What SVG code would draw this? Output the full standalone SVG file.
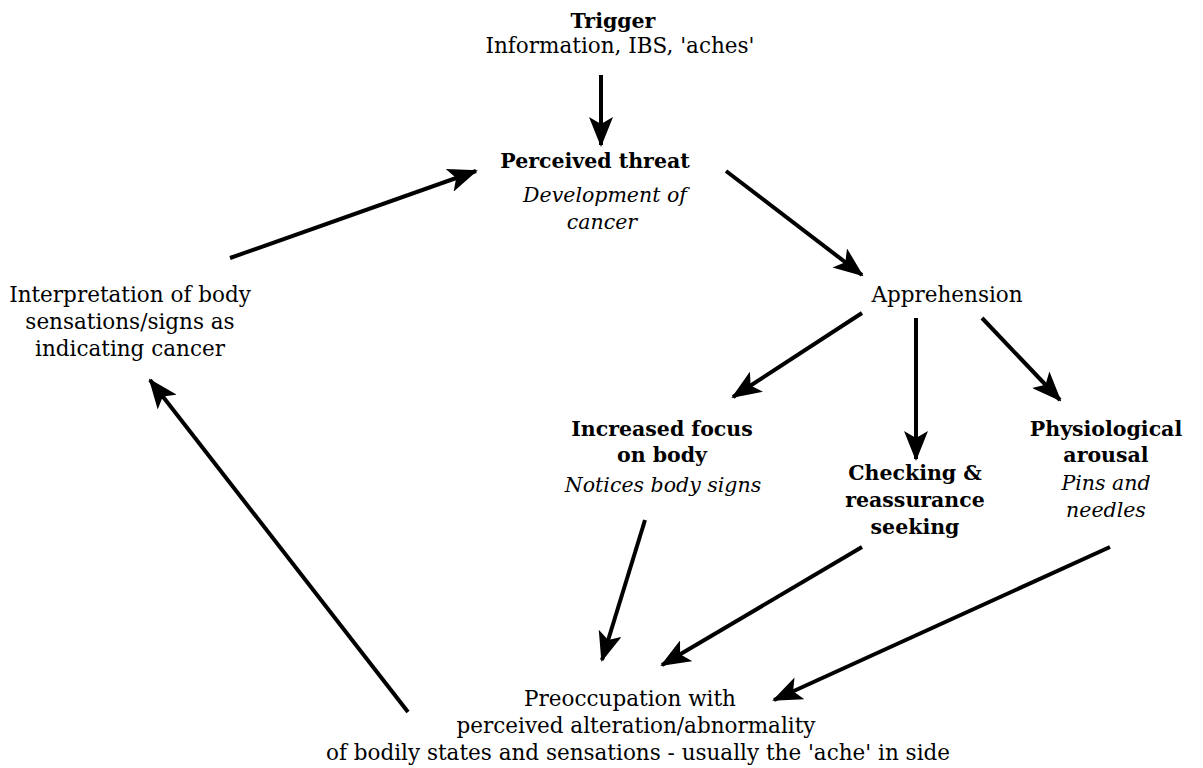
<svg xmlns="http://www.w3.org/2000/svg" width="1203" height="768" viewBox="0 0 1203 768">
<style>
text{font-family:"DejaVu Serif","Liberation Serif",serif;font-size:21.5px;fill:#000;text-anchor:middle}
.b{font-weight:bold;font-size:20.5px}
.i{font-style:italic;font-size:20.5px}
.c{stroke:#000;stroke-width:4;fill:none;marker-end:url(#ah)}
</style>
<defs>
<marker id="ah" markerUnits="userSpaceOnUse" markerWidth="30" markerHeight="24" viewBox="0 0 30 24" refX="28" refY="12" orient="auto">
<path d="M0,0 L30,12 L0,24 L7,12 z" fill="#000"/>
</marker>
</defs>
<rect width="1203" height="768" fill="#fff"/>
<g id="connectors">
<line class="c" x1="601" y1="75" x2="601" y2="145"/>
<line class="c" x1="726" y1="171" x2="862" y2="275"/>
<line class="c" x1="862" y1="313" x2="733" y2="397"/>
<line class="c" x1="916" y1="318" x2="916" y2="459"/>
<line class="c" x1="982" y1="318" x2="1060" y2="400"/>
<line class="c" x1="230" y1="258" x2="476" y2="171"/>
<line class="c" x1="408" y1="712" x2="150" y2="380"/>
<line class="c" x1="645" y1="520" x2="602" y2="660"/>
<line class="c" x1="862" y1="547" x2="662" y2="665"/>
<line class="c" x1="1110" y1="547" x2="774" y2="700"/>
</g>
<g id="trigger">
<text class="b" x="613" y="28">Trigger</text>
<text x="620" y="53">Information, IBS, 'aches'</text>
</g>
<g id="threat">
<text class="b" x="595" y="168">Perceived threat</text>
<text class="i" x="605" y="202">Development of</text>
<text class="i" x="602" y="229">cancer</text>
</g>
<g id="apprehension">
<text x="947" y="302">Apprehension</text>
</g>
<g id="interpretation">
<text x="130" y="302">Interpretation of body</text>
<text x="130" y="329">sensations/signs as</text>
<text x="130" y="356">indicating cancer</text>
</g>
<g id="focus">
<text class="b" x="662" y="436">Increased focus</text>
<text class="b" x="662" y="462">on body</text>
<text class="i" x="663" y="492">Notices body signs</text>
</g>
<g id="checking">
<text class="b" x="915" y="480">Checking &amp;</text>
<text class="b" x="915" y="507">reassurance</text>
<text class="b" x="915" y="534">seeking</text>
</g>
<g id="arousal">
<text class="b" x="1106" y="436">Physiological</text>
<text class="b" x="1106" y="462">arousal</text>
<text class="i" x="1106" y="490">Pins and</text>
<text class="i" x="1106" y="517">needles</text>
</g>
<g id="preoccupation">
<text x="630" y="706">Preoccupation with</text>
<text x="636" y="733">perceived alteration/abnormality</text>
<text x="638" y="760">of bodily states and sensations - usually the 'ache' in side</text>
</g>
</svg>
